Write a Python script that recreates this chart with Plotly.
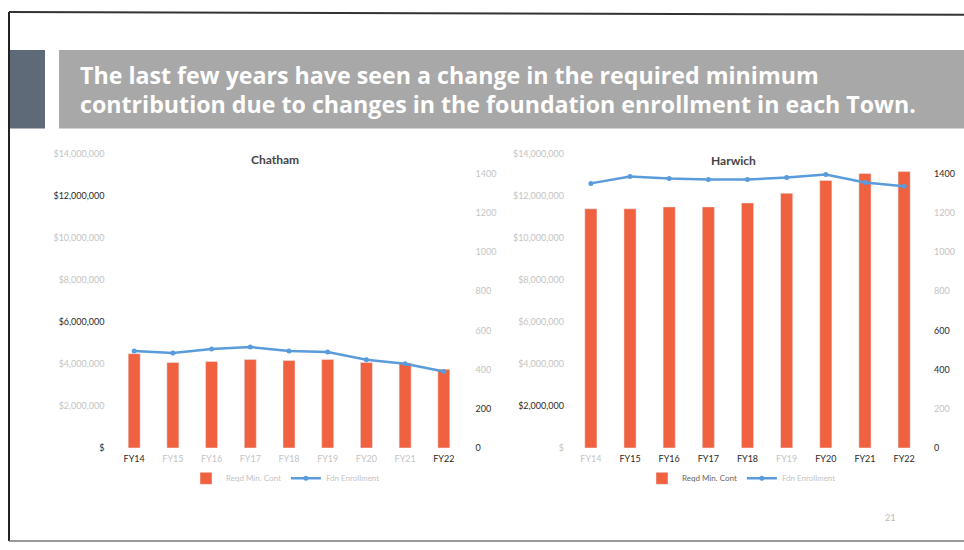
import plotly.graph_objects as go

# ---------------- data ----------------
years = ["FY14", "FY15", "FY16", "FY17", "FY18", "FY19", "FY20", "FY21", "FY22"]

chatham_min_cont = [4.49e6, 4.07e6, 4.12e6, 4.21e6, 4.17e6, 4.21e6, 4.07e6, 4.05e6, 3.75e6]
chatham_enroll = [495, 485, 505, 515, 495, 490, 450, 430, 390]

harwich_min_cont = [11.39e6, 11.39e6, 11.48e6, 11.48e6, 11.67e6, 12.13e6, 12.74e6, 13.07e6, 13.16e6]
harwich_enroll = [1350, 1385, 1375, 1370, 1370, 1380, 1395, 1355, 1335]

money_ticks = [0, 2e6, 4e6, 6e6, 8e6, 10e6, 12e6, 14e6]
money_labels = ["$", "$2,000,000", "$4,000,000", "$6,000,000", "$8,000,000",
                "$10,000,000", "$12,000,000", "$14,000,000"]
enroll_ticks = [0, 200, 400, 600, 800, 1000, 1200, 1400]
enroll_labels = ["0", "200", "400", "600", "800", "1000", "1200", "1400"]

title_line1 = "The last few years have seen a change in the required minimum"
title_line2 = "contribution due to changes in the foundation enrollment in each Town."

# scan appearance: which labels came out dark (True) vs faded (False)
ch_money_dark = [True, False, False, True, False, False, True, False]
ch_enroll_dark = [True, True, False, False, False, False, False, False]
ch_x_dark = [True, False, False, False, False, False, False, False, True]
hw_money_dark = [False, True, False, False, False, False, False, False]
hw_enroll_dark = [True, False, True, True, False, False, False, True]
hw_x_dark = [False, True, True, True, True, False, True, True, True]

DARK = "#2a2a2a"
FADED = "#c4c4c4"
BAR = "#F0613F"
LINE = "#5A9BDB"
FONT = "Lato"


def styled(labels, dark):
    return ["<span style='color:%s'>%s</span>" % (DARK if d else FADED, l)
            for l, d in zip(labels, dark)]


fig = go.Figure()

# Chatham
fig.add_trace(go.Bar(x=years, y=chatham_min_cont, marker_color=BAR, name="Reqd Min. Cont",
                     xaxis="x", yaxis="y", legend="legend"))
fig.add_trace(go.Scatter(x=years, y=chatham_enroll, mode="lines+markers", name="Fdn Enrollment",
                         line=dict(color=LINE, width=2.5), marker=dict(size=5, color=LINE),
                         xaxis="x", yaxis="y2", legend="legend"))
# Harwich
fig.add_trace(go.Bar(x=years, y=harwich_min_cont, marker_color=BAR,
                     name="<span style='color:#666'>Reqd Min. Cont</span>",
                     xaxis="x3", yaxis="y3", legend="legend2"))
fig.add_trace(go.Scatter(x=years, y=harwich_enroll, mode="lines+markers", name="Fdn Enrollment",
                         line=dict(color=LINE, width=2.5), marker=dict(size=5, color=LINE),
                         xaxis="x3", yaxis="y4", legend="legend2"))

W, H = 964, 550
ydom = [1 - 451 / H, 1 - 151 / H]
tickfont = dict(family=FONT, size=9, color=DARK)

common_x = dict(showgrid=False, zeroline=False, showline=False, ticks="",
                tickfont=tickfont, ticklabelstandoff=4, fixedrange=True)
common_y = dict(showgrid=False, zeroline=False, showline=False, ticks="",
                tickfont=tickfont, fixedrange=True)

fig.update_layout(
    width=W, height=H,
    margin=dict(l=0, r=0, t=0, b=0),
    paper_bgcolor="white", plot_bgcolor="white",
    bargap=0.69,
    font=dict(family=FONT),
    xaxis=dict(domain=[113.5 / W, 464.5 / W], anchor="y",
               tickvals=years, ticktext=styled(years, ch_x_dark), **common_x),
    yaxis=dict(domain=ydom, anchor="x", range=[0, 14e6],
               tickvals=money_ticks, ticktext=styled(money_labels, ch_money_dark),
               ticklabelstandoff=8, **common_y),
    yaxis2=dict(overlaying="y", anchor="x", side="right", range=[0, 1500],
                tickvals=enroll_ticks, ticktext=styled(enroll_labels, ch_enroll_dark),
                ticklabelstandoff=10, **common_y),
    xaxis3=dict(domain=[570 / W, 925 / W], anchor="y3",
                tickvals=years, ticktext=styled(years, hw_x_dark), **common_x),
    yaxis3=dict(domain=ydom, anchor="x3", range=[0, 14e6],
                tickvals=money_ticks, ticktext=styled(money_labels, hw_money_dark),
                ticklabelstandoff=5, **common_y),
    yaxis4=dict(overlaying="y3", anchor="x3", side="right", range=[0, 1500],
                tickvals=enroll_ticks, ticktext=styled(enroll_labels, hw_enroll_dark),
                ticklabelstandoff=8, **common_y),
    legend=dict(orientation="h", x=186 / W, y=1 - 482 / H, xanchor="left", yanchor="middle",
                font=dict(family=FONT, size=8, color=FADED), bgcolor="rgba(0,0,0,0)",
                itemwidth=30, tracegroupgap=0),
    legend2=dict(orientation="h", x=642 / W, y=1 - 482 / H, xanchor="left", yanchor="middle",
                 font=dict(family=FONT, size=8, color=FADED), bgcolor="rgba(0,0,0,0)",
                 itemwidth=30, tracegroupgap=0),
    showlegend=True,
)

# slide frame and banner
shapes = [
    dict(type="rect", xref="paper", yref="paper", x0=10 / W, x1=45 / W,
         y0=1 - 125 / H, y1=1 - 45 / H, fillcolor="#5E6A77", line=dict(width=0), layer="below"),
    dict(type="rect", xref="paper", yref="paper", x0=59 / W, x1=1.0,
         y0=1 - 125 / H, y1=1 - 45 / H, fillcolor="#A8A8A8", line=dict(width=0), layer="below"),
    dict(type="line", xref="paper", yref="paper", x0=9 / W, x1=9 / W, y0=1 - 546 / H, y1=1 - 6 / H,
         line=dict(color="#222", width=2)),
    dict(type="line", xref="paper", yref="paper", x0=9 / W, x1=1.0, y0=1 - 6 / H, y1=1 - 9 / H,
         line=dict(color="#333", width=2)),
    dict(type="line", xref="paper", yref="paper", x0=9 / W, x1=1.0, y0=1 - 546 / H, y1=1 - 546 / H,
         line=dict(color="#777", width=1.5)),
]
fig.update_layout(shapes=shapes)

TITLE_FONT = dict(family="Open Sans", size=23.2, color="white")
annotations = [
    dict(text="<b>%s</b>" % title_line1, x=78 / W, y=1 - 70 / H, xref="paper", yref="paper",
         xanchor="left", yanchor="middle", showarrow=False, font=TITLE_FONT),
    dict(text="<b>%s</b>" % title_line2, x=78 / W, y=1 - 100 / H, xref="paper", yref="paper",
         xanchor="left", yanchor="middle", showarrow=False, font=TITLE_FONT),
    dict(text="<b>Chatham</b>", x=275 / W, y=1 - 157 / H, xref="paper", yref="paper",
         xanchor="center", yanchor="middle", showarrow=False,
         font=dict(family=FONT, size=12, color="#444")),
    dict(text="<b>Harwich</b>", x=733 / W, y=1 - 158 / H, xref="paper", yref="paper",
         xanchor="center", yanchor="middle", showarrow=False,
         font=dict(family=FONT, size=12, color="#444")),
    dict(text="21", x=890 / W, y=1 - 522 / H, xref="paper", yref="paper",
         xanchor="center", yanchor="middle", showarrow=False,
         font=dict(family=FONT, size=9, color="#bbb")),
]
fig.update_layout(annotations=annotations)

fig.write_html("out.html")
